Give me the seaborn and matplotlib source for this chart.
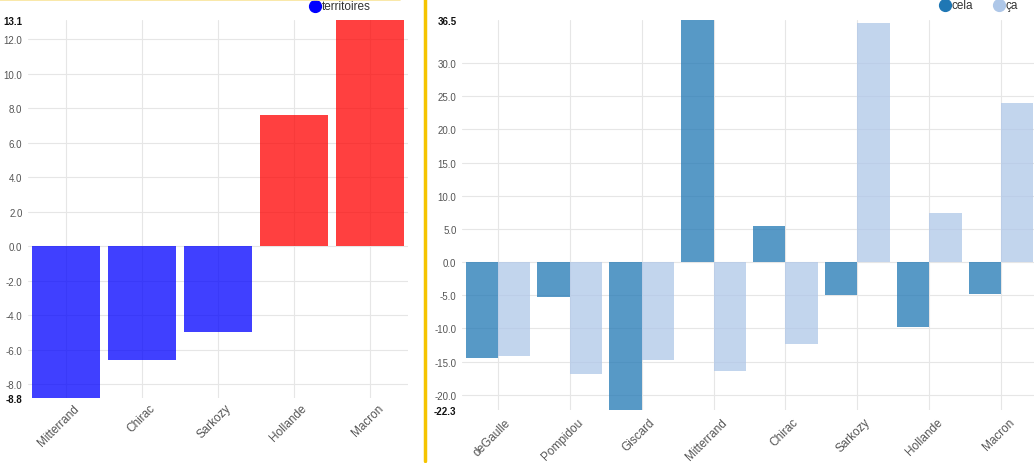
import matplotlib
matplotlib.use("Agg")
import matplotlib.pyplot as plt
import matplotlib.transforms as mtransforms
from matplotlib.lines import Line2D
import seaborn as sns
import pandas as pd
import numpy as np

# ---- data ----
left_names = ["Mitterrand", "Chirac", "Sarkozy", "Hollande", "Macron"]
left_values = [-8.8, -6.6, -5.0, 7.6, 13.1]

right_names = ["deGaulle", "Pompidou", "Giscard", "Mitterrand", "Chirac",
               "Sarkozy", "Hollande", "Macron"]
cela_values = [-14.4, -5.3, -22.3, 36.5, 5.5, -5.0, -9.8, -4.8]
ca_values = [-14.2, -16.9, -14.8, -16.4, -12.3, 36.0, 7.4, 24.0]

left_ticks = [-8.0, -6.0, -4.0, -2.0, 0.0, 2.0, 4.0, 6.0, 8.0, 10.0, 12.0]
right_ticks = [-20.0, -15.0, -10.0, -5.0, 0.0, 5.0, 10.0, 15.0, 20.0, 25.0, 30.0]

sns.set_theme(style="white")
plt.rcParams["font.family"] = ["Liberation Sans", "DejaVu Sans"]

W, H = 1034, 464
fig = plt.figure(figsize=(W / 100, H / 100), dpi=100)

def fx(px):
    return px / W

def fy(py):
    return 1 - py / H

ax1 = fig.add_axes([fx(28), fy(399), fx(408) - fx(28), fy(21) - fy(399)])
ax2 = fig.add_axes([fx(462), fy(411), fx(1037) - fx(462), fy(21) - fy(411)])

grid_c = "#e6e6e6"
tick_c = "#555555"

# ---- left panel ----
df1 = pd.DataFrame({"name": left_names, "value": left_values})
left_cols = ["#0000ff" if v < 0 else "#ff0000" for v in left_values]
sns.barplot(data=df1, x="name", y="value", hue="name", palette=left_cols,
            width=0.9, alpha=0.75, legend=False, ax=ax1, saturation=1,
            linewidth=0, edgecolor="none")
ymin1, ymax1 = min(left_values), max(left_values)
ax1.set_ylim(ymin1, ymax1)
ax1.set_xlim(-0.5, len(left_names) - 0.5)

# ---- right panel ----
df2 = pd.DataFrame({
    "name": right_names * 2,
    "value": cela_values + ca_values,
    "serie": ["cela"] * len(right_names) + ["ça"] * len(right_names),
})
sns.barplot(data=df2, x="name", y="value", hue="serie",
            palette={"cela": "#1f77b4", "ça": "#aec7e8"},
            width=0.9, alpha=0.75, ax=ax2, saturation=1, legend=False,
            linewidth=0, edgecolor="none")
ymin2 = min(cela_values + ca_values)
ymax2 = max(cela_values + ca_values)
ax2.set_ylim(ymin2, ymax2)
ax2.set_xlim(-0.5, len(right_names) - 0.5)

for ax, ticks, lo, hi, dx, dy in [(ax1, left_ticks, ymin1, ymax1, 7, -4),
                                  (ax2, right_ticks, ymin2, ymax2, 7, -6)]:
    ax.set_axisbelow(True)
    for s in ax.spines.values():
        s.set_visible(False)
    ax.set_xlabel("")
    ax.set_ylabel("")
    allt = [lo] + ticks + [hi]
    ax.set_yticks(allt)
    ax.set_yticklabels([f"{t:.1f}" for t in allt])
    labs = ax.get_yticklabels()
    for i, lab in enumerate(labs):
        if i == 0 or i == len(labs) - 1:
            lab.set_fontweight("bold")
            lab.set_color("#111111")
        else:
            lab.set_color(tick_c)
        lab.set_fontsize(7)
    ax.tick_params(axis="y", length=0, pad=4)
    ax.tick_params(axis="x", length=0, pad=0)
    for t in ticks:
        ax.axhline(t, color=grid_c, lw=0.8, zorder=0)
    ax.grid(axis="x", color=grid_c, lw=0.8)
    ax.grid(axis="y", visible=False)
    offset = mtransforms.ScaledTranslation(dx / 100, dy / 100, fig.dpi_scale_trans)
    for lab in ax.get_xticklabels():
        lab.set_rotation(45)
        lab.set_ha("right")
        lab.set_va("top")
        lab.set_rotation_mode("anchor")
        lab.set_fontsize(8.5)
        lab.set_color(tick_c)
        lab.set_transform(lab.get_transform() + offset)

# ---- legends (drawn manually) ----
def legend_item(px, py, color, label):
    fig.add_artist(Line2D([fx(px)], [fy(py)], marker="o", ls="", color=color,
                          markersize=8.5, transform=fig.transFigure))
    fig.text(fx(px + 7), fy(py), label, fontsize=8.5, color="#333333",
             ha="left", va="center")

legend_item(315, 7, "#0000ff", "territoires")
legend_item(945, 6, "#1f77b4", "cela")
legend_item(999, 6, "#aec7e8", "ça")

# ---- separators ----
fig.add_artist(Line2D([fx(425), fx(425)], [fy(462), fy(0)], color="#f5c400",
                      lw=2.5, transform=fig.transFigure))
fig.add_artist(Line2D([fx(0), fx(400)], [fy(1), fy(1)], color="#f8e49a",
                      lw=1.2, transform=fig.transFigure))

fig.savefig("out.png", dpi=100)
